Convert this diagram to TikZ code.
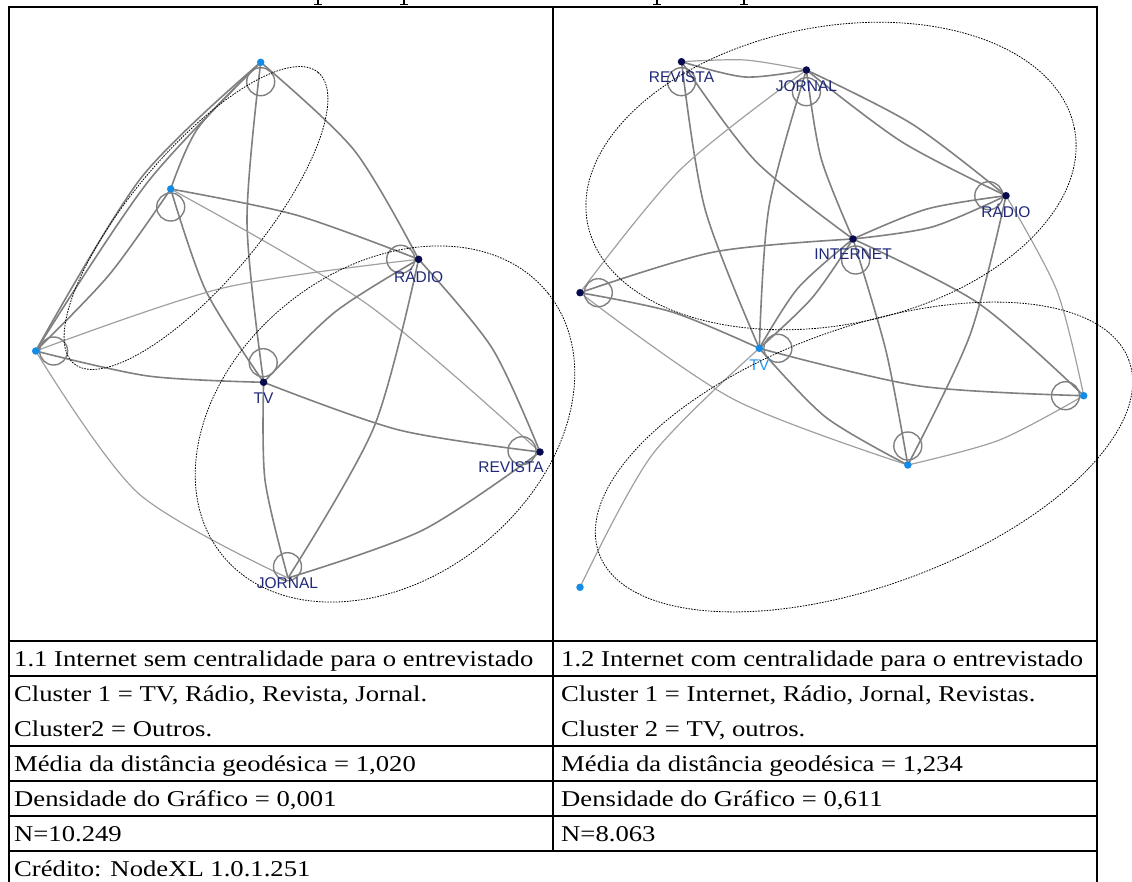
\documentclass[tikz,border=0pt]{standalone}
\usepackage{fontspec}
\setmainfont{Liberation Serif}
\newfontfamily\tabfont[FakeStretch=1.18]{Liberation Serif}
\newfontfamily\lblfont{Liberation Sans}
\pgfdeclarelayer{back}
\pgfsetlayers{back,main}
\definecolor{navy}{RGB}{8,10,78}
\definecolor{dotblue}{RGB}{20,140,230}
\definecolor{lblnavy}{RGB}{30,40,120}
\definecolor{tvblue}{RGB}{40,150,240}
\definecolor{edgegray}{RGB}{128,128,128}
\definecolor{edgelight}{RGB}{160,160,160}
\tikzset{
  lnk/.style={draw=edgegray, line width=1.6pt},
  lnklt/.style={draw=edgelight, line width=1.2pt},
  loopring/.style={circle, draw=edgegray, line width=1.4pt, minimum size=28pt, inner sep=0pt},
  navydot/.style={circle, fill=navy, inner sep=0pt, minimum size=7.5pt},
  bluedot/.style={circle, fill=dotblue, inner sep=0pt, minimum size=7.5pt},
  lbl/.style={font=\lblfont\fontsize{15.5pt}{16pt}\selectfont, text=lblnavy, inner sep=0pt},
  clus/.style={draw=black, line width=0.8pt, dash pattern=on 1.6pt off 1.2pt},
  tline/.style={draw=black, line width=2pt},
  cell/.style={font=\tabfont\fontsize{22.6pt}{26pt}\selectfont, anchor=base west, inner sep=0pt}
}
\begin{document}
\begin{tikzpicture}[x=1pt,y=-1pt]
\useasboundingbox (0,0) rectangle (1132,882);

% ---------- table ----------
\draw[tline] (8,7.5) -- (1098,7.5);
\draw[tline] (9,6.5) -- (9,882);
\draw[tline] (1097,6.5) -- (1097,882);
\draw[tline] (552.7,7.5) -- (552.7,851);
\foreach \yy in {641,676,746,781,816,851} { \draw[tline] (9,\yy) -- (1097,\yy); }
% cut-off descenders of the caption above
\foreach \xx in {318,404,657,744} {
  \fill[black] (\xx-1.2,0) rectangle (\xx+1.2,4.6);
  \fill[black] (\xx-3.6,3.9) rectangle (\xx+3.6,4.9);
}
\node[cell] (t11) at (14,666.5) {1.1 Internet sem centralidade para o entrevistado};
\node[cell] (t12) at (561,666.5) {1.2 Internet com centralidade para o entrevistado};
\node[cell] (t21) at (14,701.5) {Cluster 1 = TV, Rádio, Revista, Jornal.};
\node[cell] (t22) at (14,736.5) {Cluster2 = Outros.};
\node[cell] (t23) at (561,701.5) {Cluster 1 = Internet, Rádio, Jornal, Revistas.};
\node[cell] (t24) at (561,736.5) {Cluster 2 = TV, outros.};
\node[cell] (t31) at (14,771) {Média da distância geodésica = 1,020};
\node[cell] (t32) at (561,771) {Média da distância geodésica = 1,234};
\node[cell] (t41) at (14,806) {Densidade do Gráfico = 0,001};
\node[cell] (t42) at (561,806) {Densidade do Gráfico = 0,611};
\node[cell] (t51) at (14,841) {N=10.249};
\node[cell] (t52) at (561,841) {N=8.063};
\node[cell] (t61) at (14,876) {Crédito: NodeXL 1.0.1.251};

% ---------- left graph ----------
\node[loopring] (Ar) at (260.7,81.7) {};
\node[loopring] (Br) at (170.7,207) {};
\node[loopring] (Rlr) at (400.7,259.3) {};
\node[loopring] (Cr) at (53.6,351) {};
\node[loopring] (Tlr) at (263.2,362.7) {};
\node[loopring] (Vlr) at (522,450.7) {};
\node[loopring] (Jlr) at (287.5,566.7) {};

\node[bluedot] (A) at (260.7,62.3) {};
\node[bluedot] (B) at (170.7,189) {};
\node[navydot] (Rl) at (418.6,259.3) {};
\node[bluedot] (C) at (35.7,351) {};
\node[navydot] (Tl) at (263.6,382.3) {};
\node[navydot] (Vl) at (540,452) {};
\coordinate (Jl) at (288,578);

\node[lbl] (RlL) at (418.6,276) {RÁDIO};
\node[lbl] (TlL) at (263.6,398) {TV};
\node[lbl] (VlL) at (511,466.7) {REVISTA};
\node[lbl] (JlL) at (287.5,583) {JORNAL};

\begin{pgfonlayer}{back}
\draw[lnk] plot[smooth] coordinates {(A) (141,178) (C)};
\draw[lnk] plot[smooth] coordinates {(A) (147,183) (C)};
\draw[lnk] plot[smooth] coordinates {(A) (198,128) (B)};
\draw[lnk] plot[smooth] coordinates {(A) (247,222) (Tl)};
\draw[lnk] plot[smooth] coordinates {(A) (354,150) (Rl)};
\draw[lnk] plot[smooth] coordinates {(B) (296,215) (Rl)};
\draw[lnklt] plot[smooth] coordinates {(B) (367,304) (Vl)};
\draw[lnk] plot[smooth] coordinates {(B) (206,291) (Tl)};
\draw[lnk] plot[smooth] coordinates {(B) (109,275) (C)};
\draw[lnklt] plot[smooth] coordinates {(C) (223,288) (Rl)};
\draw[lnk] plot[smooth] coordinates {(Rl) (335,312) (Tl)};
\draw[lnk] plot[smooth] coordinates {(Rl) (374,427) (Jl)};
\draw[lnk] plot[smooth] coordinates {(Rl) (492,348) (Vl)};
\draw[lnk] plot[smooth] coordinates {(C) (148,376) (Tl)};
\draw[lnk] plot[smooth] coordinates {(Tl) (399,430) (Vl)};
\draw[lnk] plot[smooth] coordinates {(Tl) (265,480) (Jl)};
\draw[lnk] plot[smooth] coordinates {(Vl) (423,530) (Jl)};
\draw[lnklt] plot[smooth] coordinates {(C) (138,493) (Jl)};
\end{pgfonlayer}

\draw[clus, rotate around={50:(196,218)}] (196,218) ellipse [x radius=190pt, y radius=65pt];
\draw[clus, rotate around={38.7:(385,424)}] (385,424) ellipse [x radius=209pt, y radius=155pt];

% ---------- right graph ----------
\node[loopring] (Vrr) at (681.5,81.7) {};
\node[loopring] (Jrr) at (806.4,91.7) {};
\node[loopring] (Rrr) at (988.8,195.7) {};
\node[loopring] (Irr) at (855.6,260) {};
\node[loopring] (Dr) at (598.3,292.7) {};
\node[loopring] (Trr) at (777.9,348.3) {};
\node[loopring] (Er) at (1065.5,395.7) {};
\node[loopring] (Fr) at (907.8,446) {};

\node[navydot] (Vr) at (681.5,61.7) {};
\node[navydot] (Jr) at (806.4,70) {};
\node[navydot] (Rr) at (1006,195.7) {};
\node[navydot] (Ir) at (853,239) {};
\node[navydot] (D) at (580,292.7) {};
\node[bluedot] (Tr) at (759.3,348.3) {};
\node[bluedot] (E) at (1083.7,395.7) {};
\node[bluedot] (F) at (907.8,465) {};
\node[bluedot] (G) at (580,587.3) {};

\node[lbl] (VrL) at (681.5,77.3) {REVISTA};
\node[lbl] (JrL) at (806.4,86) {JORNAL};
\node[lbl] (RrL) at (1006,210.7) {RÁDIO};
\node[lbl] (IrL) at (853,254.3) {INTERNET};
\node[lbl, text=tvblue] (TrL) at (759.3,365) {TV};

\begin{pgfonlayer}{back}
\draw[lnklt] plot[smooth] coordinates {(Vr) (745,60) (Jr)};
\draw[lnk] plot[smooth] coordinates {(Vr) (745,77) (Jr)};
\draw[lnk] plot[smooth] coordinates {(Jr) (912,124) (Rr)};
\draw[lnk] plot[smooth] coordinates {(Jr) (902,142) (Rr)};
\draw[lnk] plot[smooth] coordinates {(Vr) (755.5,161) (Ir)};
\draw[lnk] plot[smooth] coordinates {(Vr) (705,209) (Tr)};
\draw[lnk] plot[smooth] coordinates {(Jr) (821,158) (Ir)};
\draw[lnk] plot[smooth] coordinates {(Jr) (769,207) (Tr)};
\draw[lnklt] plot[smooth] coordinates {(Jr) (681,169) (D)};
\draw[lnk] plot[smooth] coordinates {(Ir) (927,209) (Rr)};
\draw[lnk] plot[smooth] coordinates {(Ir) (932,227) (Rr)};
\draw[lnk] plot[smooth] coordinates {(Rr) (970,335) (F)};
\draw[lnklt] plot[smooth] coordinates {(Rr) (1057,291) (E)};
\draw[lnk] plot[smooth] coordinates {(Ir) (714,252) (D)};
\draw[lnk] plot[smooth] coordinates {(Ir) (798,288) (Tr)};
\draw[lnk] plot[smooth] coordinates {(Ir) (812,298) (Tr)};
\draw[lnk] plot[smooth] coordinates {(Ir) (886,351) (F)};
\draw[lnk] plot[smooth] coordinates {(Ir) (978,303) (E)};
\draw[lnk] plot[smooth] coordinates {(D) (672,312) (Tr)};
\draw[lnklt] plot[smooth] coordinates {(D) (733,399) (F)};
\draw[lnk] plot[smooth] coordinates {(Tr) (919.5,386) (E)};
\draw[lnk] plot[smooth] coordinates {(Tr) (825.5,417) (F)};
\draw[lnklt] plot[smooth] coordinates {(Tr) (652,455) (G)};
\draw[lnklt] plot[smooth] coordinates {(F) (999.5,440) (E)};
\end{pgfonlayer}

\draw[clus, rotate around={11:(831,176)}] (831,176) ellipse [x radius=248pt, y radius=149pt];
\draw[clus, rotate around={20:(864,457)}] (864,457) ellipse [x radius=282pt, y radius=129pt];
\end{tikzpicture}
\end{document}
